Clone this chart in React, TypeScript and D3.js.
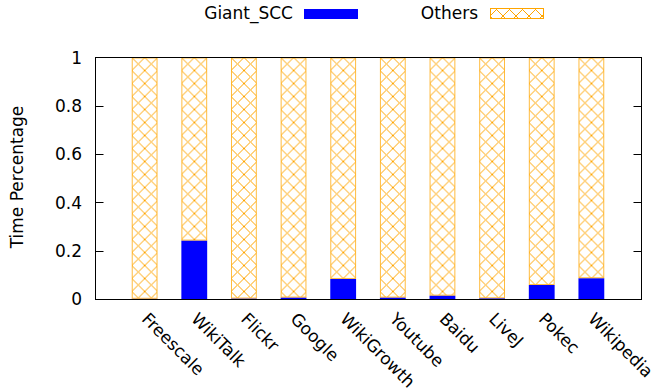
import React, { useEffect, useRef } from "react";
import * as d3 from "d3";

// Graph datasets on the x axis
const categories = [
  "Freescale",
  "WikiTalk",
  "Flickr",
  "Google",
  "WikiGrowth",
  "Youtube",
  "Baidu",
  "LiveJ",
  "Pokec",
  "Wikipedia",
];

// Share of run time spent on the giant SCC
const giantScc = [0.001, 0.242, 0.002, 0.006, 0.083, 0.006, 0.014, 0.003, 0.058, 0.086];
// Share of run time spent on everything else
const others = [0.999, 0.758, 0.998, 0.994, 0.917, 0.994, 0.986, 0.997, 0.942, 0.914];

const yTicks = [0, 0.2, 0.4, 0.6, 0.8, 1];
const yTickLabels = ["0", "0.2", "0.4", "0.6", "0.8", "1"];

const seriesNames = ["Giant_SCC", "Others"];

const W = 652;
const H = 391;
const FONT = "'DejaVu Sans', sans-serif";
const ORANGE = "#FFA500";
const BLUE = "#0000FF";

export default function App() {
  const ref = useRef<SVGSVGElement | null>(null);

  useEffect(() => {
    const svg = d3.select(ref.current);
    svg.selectAll("*").remove();

    const x = d3.scaleLinear().domain([-1, categories.length]).range([95, 641]);
    const y = d3.scaleLinear().domain([0, 1]).range([299, 57.5]);
    const barW = (x(1) - x(0)) * 0.52;

    const defs = svg.append("defs");
    const addHatch = (id: string, ox: number, oy: number) => {
      const p = defs
        .append("pattern")
        .attr("id", id)
        .attr("patternUnits", "userSpaceOnUse")
        .attr("x", ox)
        .attr("y", oy)
        .attr("width", 13)
        .attr("height", 13);
      p.append("path")
        .attr("d", "M-1,-1L14,14M14,-1L-1,14")
        .attr("stroke", ORANGE)
        .attr("stroke-width", 1)
        .attr("fill", "none");
    };

    const g = svg.append("g");

    // stacked bars
    categories.forEach((c, i) => {
      const cx = x(i);
      const left = cx - barW / 2;
      const yTop = y(giantScc[i]);
      g.append("rect")
        .attr("x", left)
        .attr("y", yTop)
        .attr("width", barW)
        .attr("height", y(0) - yTop)
        .attr("fill", BLUE);

      const id = `hatch-${i}`;
      addHatch(id, left, y(1));
      const oTop = y(giantScc[i] + others[i]);
      g.append("rect")
        .attr("x", left + 0.5)
        .attr("y", oTop + 0.5)
        .attr("width", barW - 1)
        .attr("height", yTop - oTop - 1)
        .attr("fill", `url(#${id})`)
        .attr("stroke", ORANGE)
        .attr("stroke-opacity", 0.75)
        .attr("stroke-width", 1);
    });

    // frame
    const x0 = 95.5;
    const x1 = 641.5;
    const yb = 299.5;
    const yt = 57.5;
    const frame = svg.append("g").attr("stroke", "#000").attr("stroke-width", 1).attr("fill", "none");
    frame.append("rect").attr("x", x0).attr("y", yt).attr("width", x1 - x0).attr("height", yb - yt);

    // y ticks, mirrored on the right
    yTicks.forEach((t, k) => {
      const yy = Math.round(y(t)) + 0.5;
      if (t > 0 && t < 1) {
        frame.append("line").attr("x1", x0).attr("x2", x0 + 8).attr("y1", yy).attr("y2", yy);
        frame.append("line").attr("x1", x1 - 8).attr("x2", x1).attr("y1", yy).attr("y2", yy);
      }
      svg
        .append("text")
        .attr("x", 82)
        .attr("y", y(t))
        .attr("dy", "0.36em")
        .attr("text-anchor", "end")
        .attr("font-family", FONT)
        .attr("font-size", 17)
        .attr("fill", "#000")
        .text(yTickLabels[k]);
    });

    // x tick labels, rotated
    categories.forEach((c, i) => {
      const bx = x(i) - 4;
      const by = 320;
      svg
        .append("text")
        .attr("transform", `translate(${bx},${by}) rotate(45)`)
        .attr("font-family", FONT)
        .attr("font-size", 17)
        .attr("fill", "#000")
        .text(c);
    });

    // y axis title
    svg
      .append("text")
      .attr("transform", "translate(23,177) rotate(-90)")
      .attr("text-anchor", "middle")
      .attr("font-family", FONT)
      .attr("font-size", 17)
      .attr("fill", "#000")
      .text("Time Percentage");

    // legend
    const lg = svg.append("g");
    lg.append("text")
      .attr("x", 293)
      .attr("y", 19)
      .attr("text-anchor", "end")
      .attr("font-family", FONT)
      .attr("font-size", 17)
      .attr("fill", "#000")
      .text(seriesNames[0]);
    lg.append("rect").attr("x", 304).attr("y", 9).attr("width", 54).attr("height", 10).attr("fill", BLUE);

    lg.append("text")
      .attr("x", 478)
      .attr("y", 19)
      .attr("text-anchor", "end")
      .attr("font-family", FONT)
      .attr("font-size", 17)
      .attr("fill", "#000")
      .text(seriesNames[1]);
    addHatch("hatch-legend", 490, 3);
    lg.append("rect")
      .attr("x", 490.5)
      .attr("y", 8.5)
      .attr("width", 53)
      .attr("height", 10)
      .attr("fill", "url(#hatch-legend)")
      .attr("stroke", ORANGE)
      .attr("stroke-width", 1);
  }, []);

  return (
    <svg
      ref={ref}
      width={W}
      height={H}
      viewBox={`0 0 ${W} ${H}`}
      style={{ position: "absolute", left: 0, top: 0, background: "#fff" }}
    />
  );
}
